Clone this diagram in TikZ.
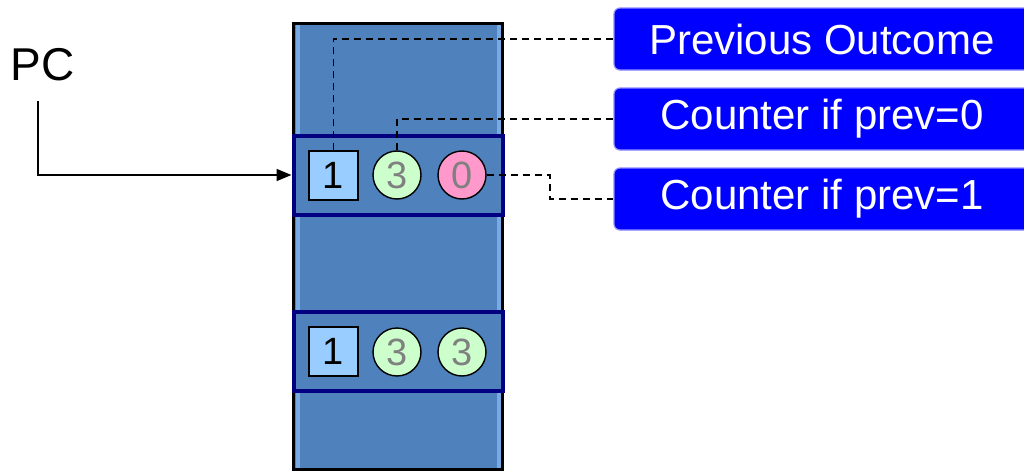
\documentclass[tikz,border=0pt]{standalone}
\usepackage{fontspec}
\setmainfont{Liberation Sans}
\usetikzlibrary{arrows.meta,positioning}

\definecolor{colfill}{HTML}{4F81BD}
\definecolor{coledge}{HTML}{78AAE4}
\definecolor{rowline}{HTML}{000080}
\definecolor{bitfill}{HTML}{99CCFF}
\definecolor{onefill}{HTML}{CCFFCC}
\definecolor{zerofill}{HTML}{FF99CC}
\definecolor{tagfill}{HTML}{0000FF}

\begin{document}
\begin{tikzpicture}[x=0.5pt,y=-0.5pt,
  row/.style={draw=rowline, line width=2pt, fill=colfill, minimum width=104.5pt, minimum height=39.5pt, inner sep=0pt},
  bit/.style={draw=black, line width=0.7pt, fill=bitfill, minimum size=24.5pt, inner sep=0pt, font=\fontsize{19}{22}\selectfont},
  ctr/.style={circle, draw=black, line width=0.7pt, minimum size=24pt, inner sep=0pt, text=gray, font=\fontsize{19}{22}\selectfont},
  tag/.style={rounded corners=3pt, fill=tagfill, draw=blue!45, line width=0.6pt, text=white, minimum width=208pt, minimum height=31pt, inner sep=0pt, font=\fontsize{21}{25}\selectfont},
  link/.style={dash pattern=on 3.5pt off 2.5pt, line width=0.9pt}]

  \clip (0,0) rectangle (1024,471);

  % the table column
  \fill[colfill] (293,23) rectangle (503,470);
  \fill[coledge] (296,25) rectangle (300,468);
  \fill[coledge] (497,25) rectangle (501,468);
  \draw[line width=1.6pt] (293.5,23.5) rectangle (502.5,469.5);

  % two entries
  \node[row] (r1) at (398,175) {};
  \node[row] (r2) at (398,351) {};
  \node[bit] (b1) at (333.5,175.5) {1};
  \node[ctr, fill=onefill] (c1) at (397,175) {3};
  \node[ctr, fill=zerofill] (z1) at (462,175) {0};
  \node[bit] (b2) at (333.5,351.5) {1};
  \node[ctr, fill=onefill] (c2) at (397,352) {3};
  \node[ctr, fill=onefill] (z2) at (462,352) {3};

  % labels
  \node[tag] (t1) at (822,39) {Previous Outcome};
  \node[tag] (t2) at (822,119) {Counter if prev=0};
  \node[tag] (t3) at (822,199) {Counter if prev=1};

  \draw[link] (b1.north) |- (t1.west);
  \draw[link] (c1.north) |- (t2.west);
  \draw[link] (z1.east) -- ++(63,0) |- (t3.west);

  % program counter
  \node[anchor=base west, inner sep=0pt, font=\fontsize{23}{27}\selectfont] (pc) at (10,80) {PC};
  \coordinate (pcfoot) at (38,101);
  \draw[line width=0.75pt, -{Triangle[length=7.5pt,width=6pt]}] (pcfoot) |- (r1.west);
\end{tikzpicture}
\end{document}
